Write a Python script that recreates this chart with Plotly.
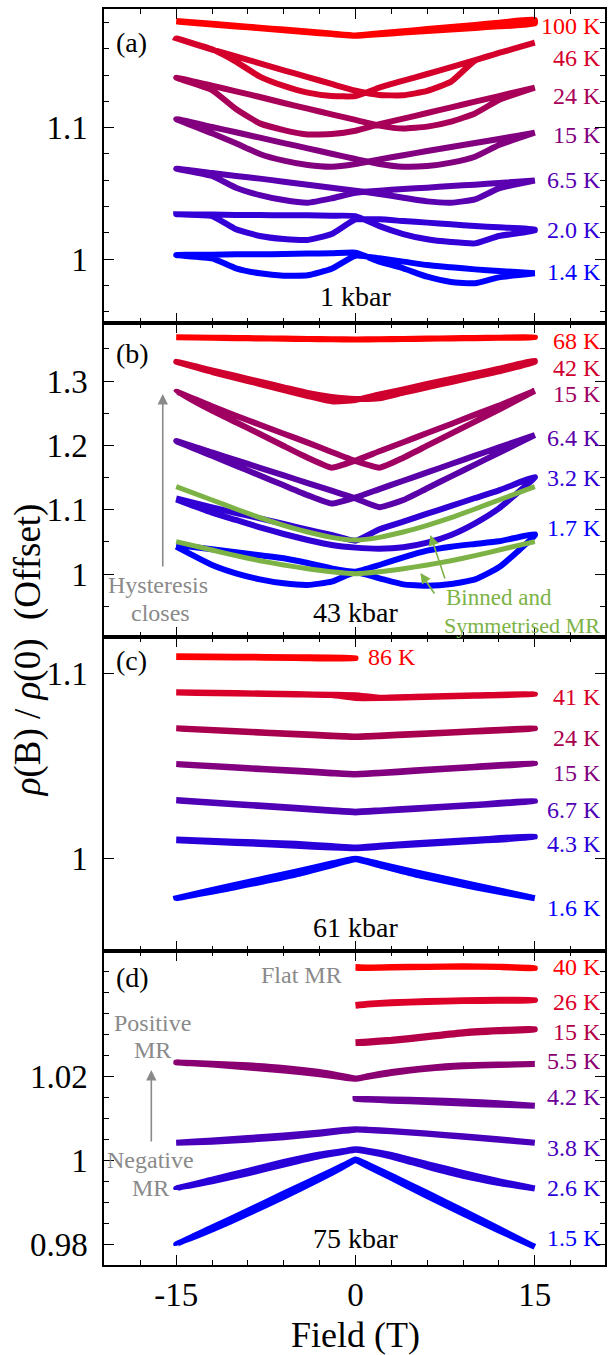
import plotly.graph_objects as go
from plotly.subplots import make_subplots

# ---------------- data (field in T, rho(B)/rho(0) offset) ----------------
GA = [-15, -12, -10, -8, -6, -4, -2, 0, 2, 4, 6, 8, 10, 12, 15]

# panel (a) 1 kbar
A100_up = [1.1813, 1.1791, 1.1776, 1.1762, 1.1747, 1.1732, 1.1718, 1.1703, 1.1719, 1.1735, 1.1751, 1.1767, 1.1783, 1.1799, 1.1823]
A100_dn = [1.1808, 1.1786, 1.1771, 1.1757, 1.1742, 1.1727, 1.1713, 1.1700, 1.1712, 1.1724, 1.1736, 1.1748, 1.1760, 1.1772, 1.1793]
A46_up = [1.1681, 1.1597, 1.1503, 1.1389, 1.1318, 1.1267, 1.1241, 1.1241, 1.1305, 1.1358, 1.1409, 1.1462, 1.1515, 1.1569, 1.1648]
A46_dn = [1.1681, 1.1595, 1.1544, 1.1490, 1.1437, 1.1386, 1.1333, 1.1282, 1.1249, 1.1247, 1.1280, 1.1351, 1.1511, 1.1569, 1.1648]
A24_up = [1.1381, 1.1287, 1.1142, 1.1033, 1.0982, 1.0949, 1.0952, 1.0977, 1.1026, 1.1069, 1.1112, 1.1155, 1.1198, 1.1241, 1.1305]
A24_dn = [1.1381, 1.1320, 1.1277, 1.1234, 1.1188, 1.1145, 1.1102, 1.1059, 1.1016, 1.0993, 1.1008, 1.1046, 1.1109, 1.1211, 1.1305]
A15_up = [1.1066, 1.0957, 1.0881, 1.0800, 1.0749, 1.0716, 1.0703, 1.0724, 1.0759, 1.0790, 1.0823, 1.0853, 1.0883, 1.0914, 1.0962]
A15_dn = [1.1066, 1.1005, 1.0965, 1.0924, 1.0883, 1.0843, 1.0802, 1.0762, 1.0724, 1.0703, 1.0708, 1.0734, 1.0779, 1.0868, 1.0962]
A6p5_up = [1.0688, 1.0632, 1.0543, 1.0487, 1.0449, 1.0429, 1.0462, 1.0505, 1.0520, 1.0533, 1.0543, 1.0556, 1.0566, 1.0579, 1.0597]
A6p5_dn = [1.0688, 1.0655, 1.0632, 1.0612, 1.0589, 1.0566, 1.0543, 1.0520, 1.0495, 1.0467, 1.0439, 1.0429, 1.0454, 1.0538, 1.0597]
A2_up = [1.0340, 1.0327, 1.0226, 1.0175, 1.0152, 1.0145, 1.0190, 1.0302, 1.0302, 1.0289, 1.0277, 1.0264, 1.0251, 1.0241, 1.0226]
A2_dn = [1.0340, 1.0338, 1.0335, 1.0335, 1.0333, 1.0333, 1.0330, 1.0327, 1.0250, 1.0190, 1.0150, 1.0129, 1.0119, 1.0175, 1.0216]
A1p4_up = [1.0030, 1.0005, 0.9929, 0.9891, 0.9873, 0.9876, 0.9926, 1.0025, 1.0005, 0.9980, 0.9954, 0.9937, 0.9921, 0.9909, 0.9891]
A1p4_dn = [1.0030, 1.0033, 1.0036, 1.0036, 1.0038, 1.0041, 1.0043, 1.0048, 0.9980, 0.9929, 0.9865, 0.9825, 0.9815, 0.9860, 0.9891]

# panel (b) 43 kbar
B68_up = [1.3683, 1.3676, 1.3671, 1.3666, 1.3661, 1.3656, 1.3652, 1.3648, 1.3652, 1.3656, 1.3661, 1.3666, 1.3671, 1.3676, 1.3683]
B68_dn = [1.3680, 1.3673, 1.3668, 1.3663, 1.3658, 1.3653, 1.3649, 1.3645, 1.3649, 1.3653, 1.3658, 1.3663, 1.3668, 1.3673, 1.3680]
B42_up = [1.3302, 1.3142, 1.3048, 1.2955, 1.2862, 1.2768, 1.2685, 1.2706, 1.2794, 1.2872, 1.2955, 1.3033, 1.3110, 1.3193, 1.3320]
B42_dn = [1.3302, 1.3167, 1.3079, 1.2991, 1.2903, 1.2815, 1.2753, 1.2722, 1.2732, 1.2820, 1.2903, 1.2986, 1.3069, 1.3152, 1.3300]
B15_up = [1.2836, 1.2540, 1.2359, 1.2177, 1.1991, 1.1809, 1.1654, 1.1763, 1.1908, 1.2048, 1.2193, 1.2333, 1.2478, 1.2618, 1.2850]
B15_dn = [1.2836, 1.2608, 1.2462, 1.2322, 1.2182, 1.2043, 1.1897, 1.1757, 1.1654, 1.1809, 1.1996, 1.2182, 1.2369, 1.2556, 1.2850]
B6p4_up = [1.2068, 1.1838, 1.1685, 1.1532, 1.1379, 1.1226, 1.1095, 1.1190, 1.1320, 1.1450, 1.1580, 1.1710, 1.1840, 1.1970, 1.2160]
B6p4_dn = [1.2068, 1.1890, 1.1771, 1.1652, 1.1533, 1.1414, 1.1296, 1.1177, 1.1040, 1.1150, 1.1334, 1.1518, 1.1701, 1.1885, 1.2160]
B3p2_up = [1.1177, 1.1037, 1.0949, 1.0866, 1.0778, 1.0689, 1.0607, 1.0518, 1.0695, 1.0814, 1.0938, 1.1058, 1.1182, 1.1301, 1.1510]
B3p2_dn = [1.1161, 1.0954, 1.0840, 1.0726, 1.0622, 1.0529, 1.0451, 1.0410, 1.0394, 1.0415, 1.0487, 1.0607, 1.0788, 1.1021, 1.1500]
B1p7_up = [1.0451, 1.0384, 1.0337, 1.0290, 1.0244, 1.0171, 1.0088, 1.0036, 1.0140, 1.0259, 1.0363, 1.0425, 1.0467, 1.0508, 1.0620]
B1p7_dn = [1.0425, 1.0140, 1.0010, 0.9917, 0.9855, 0.9829, 0.9881, 1.0026, 0.9933, 0.9839, 0.9819, 0.9844, 0.9917, 1.0104, 1.0600]
BIN_3p2 = [1.1358, 1.1151, 1.1011, 1.0876, 1.0757, 1.0653, 1.0570, 1.0529, 1.0570, 1.0653, 1.0757, 1.0876, 1.1011, 1.1151, 1.1358]
BIN_1p7 = [1.0503, 1.0373, 1.0285, 1.0207, 1.0140, 1.0083, 1.0036, 1.0005, 1.0036, 1.0083, 1.0140, 1.0207, 1.0285, 1.0373, 1.0503]

# panel (c) 61 kbar
GC = [-15, -10, -5, -2, 0, 2, 5, 10, 15]
GC_neg = [-15, -10, -5, 0]
C86_up = [1.1092, 1.1090, 1.1087, 1.1083]
C86_dn = [1.1088, 1.1086, 1.1083, 1.1080]
C41_up = [1.0897, 1.0893, 1.0888, 1.0884, 1.0881, 1.0868, 1.0873, 1.0881, 1.0888]
C41_dn = [1.0895, 1.0891, 1.0886, 1.0882, 1.0866, 1.0866, 1.0871, 1.0879, 1.0887]
C24_up = [1.0703, 1.0688, 1.0673, 1.0664, 1.0658, 1.0664, 1.0673, 1.0688, 1.0703]
C24_dn = [1.0701, 1.0685, 1.0669, 1.0660, 1.0655, 1.0660, 1.0669, 1.0685, 1.0701]
C15_up = [1.0510, 1.0492, 1.0474, 1.0463, 1.0456, 1.0463, 1.0476, 1.0495, 1.0514]
C15_dn = [1.0508, 1.0489, 1.0470, 1.0459, 1.0453, 1.0459, 1.0472, 1.0492, 1.0512]
C6p7_up = [1.0315, 1.0294, 1.0273, 1.0260, 1.0252, 1.0259, 1.0271, 1.0290, 1.0310]
C6p7_dn = [1.0313, 1.0291, 1.0269, 1.0256, 1.0248, 1.0255, 1.0267, 1.0287, 1.0308]
C4p3_up = [1.0101, 1.0090, 1.0078, 1.0066, 1.0058, 1.0068, 1.0082, 1.0100, 1.0118]
C4p3_dn = [1.0097, 1.0083, 1.0068, 1.0058, 1.0054, 1.0062, 1.0075, 1.0094, 1.0115]
C1p6_up = [0.9784, 0.9857, 0.9928, 0.9972, 0.9998, 0.9970, 0.9925, 0.9855, 0.9784]
C1p6_dn = [0.9784, 0.9845, 0.9912, 0.9962, 0.9995, 0.9962, 0.9912, 0.9843, 0.9784]

# panel (d) 75 kbar
GD = [-15, -12, -9, -6, -3, -1, 0, 1, 3, 6, 9, 12, 15]
GD_pos = [0, 1, 3, 6, 9, 12, 15]
D40_up = [1.0460, 1.0459, 1.0460, 1.0461, 1.0462, 1.0461, 1.0458]
D40_dn = [1.0458, 1.0458, 1.0459, 1.0460, 1.0461, 1.0460, 1.0457]
D26_up = [1.0370, 1.0373, 1.0376, 1.0379, 1.0381, 1.0382, 1.0382]
D26_dn = [1.0368, 1.0371, 1.0374, 1.0377, 1.0379, 1.0380, 1.0381]
D15_up = [1.0281, 1.0283, 1.0287, 1.0296, 1.0305, 1.0310, 1.0313]
D15_dn = [1.0279, 1.0280, 1.0284, 1.0293, 1.0302, 1.0307, 1.0311]
D5p5_up = [1.0233, 1.0230, 1.0226, 1.0220, 1.0210, 1.0200, 1.0195, 1.0200, 1.0210, 1.0220, 1.0226, 1.0228, 1.0229]
D5p5_dn = [1.0233, 1.0228, 1.0221, 1.0214, 1.0205, 1.0197, 1.0194, 1.0199, 1.0208, 1.0218, 1.0224, 1.0227, 1.0229]
D4p2_up = [1.0146, 1.0146, 1.0145, 1.0143, 1.0140, 1.0136, 1.0130]
D4p2_dn = [1.0146, 1.0145, 1.0142, 1.0139, 1.0135, 1.0132, 1.0130]
D3p8_up = [1.0042, 1.0047, 1.0053, 1.0059, 1.0066, 1.0072, 1.0074, 1.0073, 1.0070, 1.0064, 1.0057, 1.0050, 1.0042]
D3p8_dn = [1.0042, 1.0044, 1.0049, 1.0055, 1.0063, 1.0070, 1.0073, 1.0072, 1.0069, 1.0063, 1.0056, 1.0049, 1.0042]
D2p6_up = [0.9933, 0.9954, 0.9975, 0.9996, 1.0014, 1.0022, 1.0026, 1.0023, 1.0013, 0.9991, 0.9970, 0.9950, 0.9933]
D2p6_dn = [0.9933, 0.9950, 0.9969, 0.9990, 1.0010, 1.0020, 1.0025, 1.0021, 1.0009, 0.9985, 0.9963, 0.9946, 0.9933]
D1p5_up = [0.9800, 0.9840, 0.9880, 0.9921, 0.9961, 0.9988, 1.0002, 0.9990, 0.9963, 0.9922, 0.9880, 0.9837, 0.9794]
D1p5_dn = [0.9800, 0.9835, 0.9873, 0.9913, 0.9955, 0.9985, 1.0000, 0.9986, 0.9958, 0.9915, 0.9873, 0.9833, 0.9794]

# labels (temperature, label y-position)
A_LABELS = [("100 K", 1.1775), ("46 K", 1.1531), ("24 K", 1.1241), ("15 K", 1.0944), ("6.5 K", 1.0602), ("2.0 K", 1.0221), ("1.4 K", 0.9901)]
B_LABELS = [("68 K", 1.3616), ("42 K", 1.3204), ("15 K", 1.2792), ("6.4 K", 1.2110), ("3.2 K", 1.1488), ("1.7 K", 1.0711)]
C_LABELS = [("41 K", 1.0874), ("24 K", 1.0649), ("15 K", 1.0459), ("6.7 K", 1.0261), ("4.3 K", 1.0077), ("1.6 K", 0.9730)]
D_LABELS = [("40 K", 1.0461), ("26 K", 1.0376), ("15 K", 1.0305), ("5.5 K", 1.0237), ("4.2 K", 1.0151), ("3.8 K", 1.0029), ("2.6 K", 0.9933), ("1.5 K", 0.9814)]

# ---------------- styling ----------------
FONT = "Times New Roman, Liberation Serif, Times, serif"
W, H = 609, 1355
L, R, T, BOT = 104, 607, 9, 1265

def xp(p):
    return (p - L) / (R - L)

def yp(p):
    return (BOT - p) / (BOT - T)

fig = make_subplots(rows=4, cols=1, vertical_spacing=0)

def add_loop(row, Bs, up, dn, color, width=6):
    x = list(Bs) + list(Bs)[::-1]
    y = list(up) + list(dn)[::-1]
    fig.add_trace(go.Scatter(x=x, y=y, mode="lines",
                             line=dict(color=color, width=width, shape="spline", smoothing=0.45),
                             hoverinfo="skip", showlegend=False), row=row, col=1)

def add_line(row, Bs, ys, color, width=5):
    fig.add_trace(go.Scatter(x=list(Bs), y=list(ys), mode="lines",
                             line=dict(color=color, width=width, shape="spline", smoothing=0.6),
                             hoverinfo="skip", showlegend=False), row=row, col=1)

GREEN = "#7db346"
GRAY = "#8a8a8a"

# panel a
A_COLORS = ["#ff0000", "#d4002b", "#a80058", "#820080", "#5a00b0", "#3300d8", "#0000ff"]
for (up, dn), c in zip([(A100_up, A100_dn), (A46_up, A46_dn), (A24_up, A24_dn), (A15_up, A15_dn),
                        (A6p5_up, A6p5_dn), (A2_up, A2_dn), (A1p4_up, A1p4_dn)], A_COLORS):
    add_loop(1, GA, up, dn, c)

# panel b
B_COLORS = ["#ff0000", "#d0002e", "#a00062", "#5a00a8", "#3000d5", "#0000ff"]
for (up, dn), c in zip([(B68_up, B68_dn), (B42_up, B42_dn), (B15_up, B15_dn), (B6p4_up, B6p4_dn),
                        (B3p2_up, B3p2_dn), (B1p7_up, B1p7_dn)], B_COLORS):
    add_loop(2, GA, up, dn, c)
add_line(2, GA, BIN_3p2, GREEN)
add_line(2, GA, BIN_1p7, GREEN)

# panel c
add_loop(3, GC_neg, C86_up, C86_dn, "#ff0000")
C_COLORS = ["#d8002a", "#a8004f", "#820080", "#5000b5", "#2a00da", "#0000ff"]
for (up, dn), c in zip([(C41_up, C41_dn), (C24_up, C24_dn), (C15_up, C15_dn), (C6p7_up, C6p7_dn),
                        (C4p3_up, C4p3_dn), (C1p6_up, C1p6_dn)], C_COLORS):
    add_loop(3, GC, up, dn, c)

# panel d
D_COLORS = ["#ff0000", "#dd0028", "#b40048", "#8a0072", "#6a0098", "#4a00ba", "#2a00d8", "#0000ff"]
d_sets = [(GD_pos, D40_up, D40_dn), (GD_pos, D26_up, D26_dn), (GD_pos, D15_up, D15_dn), (GD, D5p5_up, D5p5_dn),
          (GD_pos, D4p2_up, D4p2_dn), (GD, D3p8_up, D3p8_dn), (GD, D2p6_up, D2p6_dn), (GD, D1p5_up, D1p5_dn)]
for (g, up, dn), c in zip(d_sets, D_COLORS):
    add_loop(4, g, up, dn, c)

# axes
y_ranges = [(0.95126, 1.1904), (0.90202, 1.39035), (0.94989, 1.11962), (0.97507, 1.04983)]
y_major = [dict(dtick=0.1, tick0=0), dict(dtick=0.1, tick0=0), dict(dtick=0.1, tick0=0),
           dict(tickmode="array", tickvals=[0.98, 1.0, 1.02], ticktext=["0.98", "1", "1.02"])]
y_minor = [dict(dtick=0.02, tick0=0), dict(dtick=0.05, tick0=0), None, dict(dtick=0.005, tick0=0)]

for i in range(4):
    row = i + 1
    minor_y = dict(ticks="inside", ticklen=5, tickwidth=1, tickcolor="black", showgrid=False)
    if y_minor[i] is not None:
        minor_y.update(y_minor[i])
        yminor = minor_y
    else:
        yminor = dict(ticks="")
    fig.update_yaxes(range=list(y_ranges[i]), showgrid=False, zeroline=False,
                     showline=True, linecolor="black", linewidth=1.5, mirror="ticks",
                     ticks="inside", ticklen=10, tickwidth=1.2, tickcolor="black",
                     tickfont=dict(family=FONT, size=33, color="black"),
                     ticklabelstandoff=8, minor=yminor, row=row, col=1, **y_major[i])
    fig.update_xaxes(range=[-21.04, 20.875], showgrid=False, zeroline=False,
                     showline=True, linecolor="black", linewidth=1.5, mirror="ticks",
                     ticks="inside", ticklen=10, tickwidth=1.2, tickcolor="black",
                     tickmode="array", tickvals=[-15, 0, 15], ticktext=["-15", "0", "15"],
                     minor=dict(dtick=3, tick0=0, ticks="inside", ticklen=5, tickwidth=1,
                                tickcolor="black", showgrid=False),
                     showticklabels=(row == 4),
                     tickfont=dict(family=FONT, size=33, color="black"),
                     ticklabelstandoff=0, row=row, col=1)

ann = []
def text(x, y, s, size, color="black", xanchor="center", xref="paper", yref="paper", textangle=0):
    ann.append(dict(x=x, y=y, xref=xref, yref=yref, text=s, showarrow=False,
                    xanchor=xanchor, yanchor="middle", textangle=textangle, borderpad=0,
                    font=dict(family=FONT, size=size, color=color)))

# temperature labels
for labels, colors, ax in [(A_LABELS, A_COLORS, "1"), (B_LABELS, B_COLORS, "2"),
                           (C_LABELS, C_COLORS, "3"), (D_LABELS, D_COLORS, "4")]:
    for (s, yv), c in zip(labels, colors):
        text(20.6, yv, s, 24, c, xanchor="right",
             xref="x" if ax == "1" else "x" + ax, yref="y" if ax == "1" else "y" + ax)
text(1.0, 1.1090, "86 K", 24, "#ff0000", xanchor="left", xref="x3", yref="y3")

# panel letters and pressures
for s, ypix in [("(a)", 42), ("(b)", 353), ("(c)", 660), ("(d)", 977)]:
    text(xp(115), yp(ypix), s, 28, xanchor="left")
for s, ypix in [("1 kbar", 297), ("43 kbar", 612), ("61 kbar", 927), ("75 kbar", 1238)]:
    text(xp(356.5), yp(ypix), s, 28)

# grey / green notes
text(xp(158), yp(585), "Hysteresis", 24, GRAY)
text(xp(161), yp(613), "closes", 24, GRAY)
text(xp(446), yp(597), "Binned and", 23, GREEN, xanchor="left")
text(xp(444), yp(625), "Symmetrised MR", 22, GREEN, xanchor="left")
text(xp(302), yp(975), "Flat MR", 24, GRAY)
text(xp(153), yp(1023), "Positive", 24, GRAY)
text(xp(153), yp(1050), "MR", 24, GRAY)
text(xp(151), yp(1160), "Negative", 24, GRAY)
text(xp(151), yp(1188), "MR", 24, GRAY)

def arrow(hx, hy, tx, ty, color):
    ann.append(dict(x=xp(hx), y=yp(hy), xref="paper", yref="paper", ax=tx - hx, ay=ty - hy,
                    axref="pixel", ayref="pixel", text="", showarrow=True,
                    arrowhead=2, arrowsize=1.3, arrowwidth=1.6, arrowcolor=color))

arrow(163, 394, 163, 568, GRAY)
arrow(151.5, 1070, 151.5, 1143, GRAY)
arrow(431.7, 535, 446.7, 580, GREEN)
arrow(421.7, 573, 436.7, 595, GREEN)

# axis titles
text(xp(28), yp(650), "<i>ρ</i>(B) / <i>ρ</i>(0) \u00a0(Offset)", 37, textangle=-90)
text(xp(356.5), yp(1335), "Field (T)", 36)

fig.update_layout(width=W, height=H, margin=dict(l=L, r=W - R, t=T, b=H - BOT),
                  paper_bgcolor="white", plot_bgcolor="white", showlegend=False,
                  annotations=ann, hovermode=False)

fig.write_html("out.html")
